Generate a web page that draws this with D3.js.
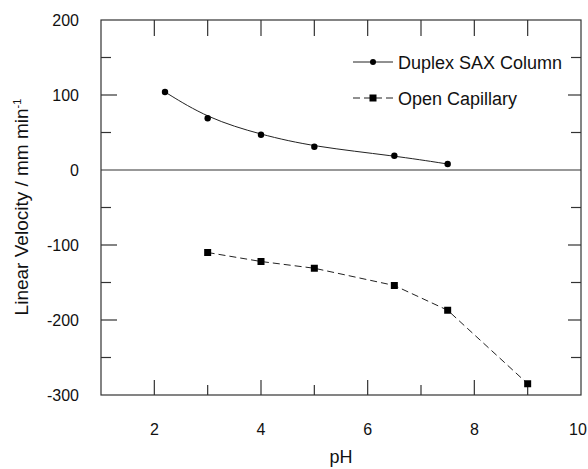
<!DOCTYPE html>
<html>
<head>
<meta charset="utf-8">
<script src="https://cdn.jsdelivr.net/npm/d3@7"></script>
<style>
body { margin: 0; background: #fff; }
text { font-family: "Liberation Sans", Arial, sans-serif; fill: #111; }
</style>
</head>
<body>
<script>
var width = 588, height = 469;

// data
var duplexPH = [2.2, 3, 4, 5, 6.5, 7.5];
var duplexVel = [104, 69, 47, 31, 19, 8];
var openPH = [3, 4, 5, 6.5, 7.5, 9];
var openVel = [-110, -122, -131, -154, -187, -285];
var xTicks = [2, 4, 6, 8, 10];
var yTicks = [200, 100, 0, -100, -200, -300];

var svg = d3.select("body").append("svg")
  .attr("width", width)
  .attr("height", height);

var x = d3.scaleLinear().domain([1, 10]).range([101, 581]);
var y = d3.scaleLinear().domain([-300, 200]).range([395, 20]);

var axisColor = "#333";

// frame
svg.append("rect")
  .attr("x", x(1)).attr("y", y(200))
  .attr("width", x(10) - x(1)).attr("height", y(-300) - y(200))
  .attr("fill", "none").attr("stroke", axisColor).attr("stroke-width", 1.2);

// zero line
svg.append("line")
  .attr("x1", x(1)).attr("x2", x(10))
  .attr("y1", y(0)).attr("y2", y(0))
  .attr("stroke", axisColor).attr("stroke-width", 1.2);

// inward ticks
var xt = d3.range(2, 10, 1);
xt.forEach(function (v) {
  var len = (v % 2 == 0) ? 15 : 10;
  svg.append("line").attr("x1", x(v)).attr("x2", x(v))
    .attr("y1", y(-300)).attr("y2", y(-300) - len)
    .attr("stroke", axisColor).attr("stroke-width", 1.2);
  svg.append("line").attr("x1", x(v)).attr("x2", x(v))
    .attr("y1", y(200)).attr("y2", y(200) + 16)
    .attr("stroke", axisColor).attr("stroke-width", 1.2);
});
var yt = d3.range(-250, 200, 50);
yt.forEach(function (v) {
  if (v == 0) return;
  var major = (v % 100 == 0);
  svg.append("line").attr("x1", x(1)).attr("x2", x(1) + (major ? 16 : 10))
    .attr("y1", y(v)).attr("y2", y(v))
    .attr("stroke", axisColor).attr("stroke-width", 1.2);
  svg.append("line").attr("x1", x(10)).attr("x2", x(10) - (major ? 13 : 10))
    .attr("y1", y(v)).attr("y2", y(v))
    .attr("stroke", axisColor).attr("stroke-width", 1.2);
});

// tick labels (last one kept inside the page edge)
svg.selectAll(".xl").data(xTicks).enter().append("text")
  .attr("x", function (d) { return Math.min(x(d), width - 10); })
  .attr("y", 435)
  .attr("text-anchor", "middle")
  .style("font-size", "16px")
  .text(function (d) { return d; });

svg.selectAll(".yl").data(yTicks).enter().append("text")
  .attr("x", 79)
  .attr("y", function (d) { return y(d) + 6; })
  .attr("text-anchor", "end")
  .style("font-size", "16px")
  .text(function (d) { return d; });

// axis titles
svg.append("text")
  .attr("x", 341).attr("y", 463)
  .attr("text-anchor", "middle")
  .style("font-size", "18px")
  .text("pH");

var yl = svg.append("text")
  .attr("transform", "translate(28,207) rotate(-90)")
  .attr("text-anchor", "middle")
  .style("font-size", "19px");
yl.append("tspan").text("Linear Velocity / mm min");
yl.append("tspan").attr("dy", -7).style("font-size", "11px").text("-1");

// Duplex SAX series
var duplex = duplexPH.map(function (d, i) { return [d, duplexVel[i]]; });
var open = openPH.map(function (d, i) { return [d, openVel[i]]; });

svg.append("path")
  .datum(duplex)
  .attr("d", d3.line().x(function (d) { return x(d[0]); }).y(function (d) { return y(d[1]); }).curve(d3.curveBasis))
  .attr("fill", "none").attr("stroke", "#222").attr("stroke-width", 1);

svg.selectAll(".dc").data(duplex).enter().append("circle")
  .attr("cx", function (d) { return x(d[0]); })
  .attr("cy", function (d) { return y(d[1]); })
  .attr("r", 3.2).attr("fill", "#000");

// Open capillary series
svg.append("path")
  .datum(open)
  .attr("d", d3.line().x(function (d) { return x(d[0]); }).y(function (d) { return y(d[1]); }))
  .attr("fill", "none").attr("stroke", "#222").attr("stroke-width", 1)
  .attr("stroke-dasharray", "7,4");

svg.selectAll(".os").data(open).enter().append("rect")
  .attr("x", function (d) { return x(d[0]) - 3.5; })
  .attr("y", function (d) { return y(d[1]) - 3.5; })
  .attr("width", 7).attr("height", 7).attr("fill", "#000");

// legend
var lg = svg.append("g");
lg.append("line").attr("x1", 353).attr("x2", 393).attr("y1", 62).attr("y2", 62)
  .attr("stroke", "#222");
lg.append("circle").attr("cx", 373).attr("cy", 62).attr("r", 3).attr("fill", "#000");
lg.append("text").attr("x", 398).attr("y", 69).style("font-size", "18px").text("Duplex SAX Column");

lg.append("line").attr("x1", 353).attr("x2", 393).attr("y1", 98).attr("y2", 98)
  .attr("stroke", "#222").attr("stroke-dasharray", "7,4");
lg.append("rect").attr("x", 369.5).attr("y", 94.5).attr("width", 7).attr("height", 7).attr("fill", "#000");
lg.append("text").attr("x", 398).attr("y", 105).style("font-size", "18px").text("Open Capillary");
</script>
</body>
</html>
